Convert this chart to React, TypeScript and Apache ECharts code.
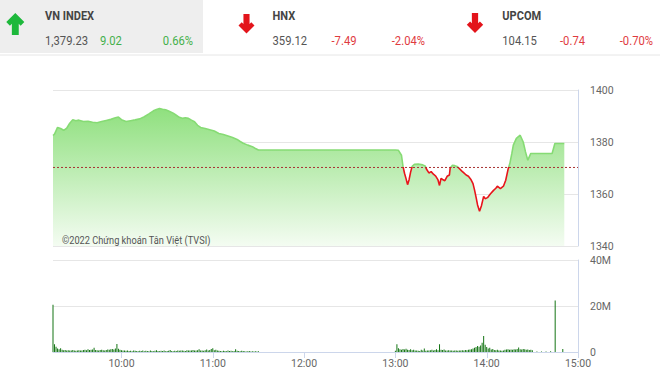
import React, { useEffect, useRef } from 'react';
import * as echarts from 'echarts';

// ---- header data ----
const indexNames = ['VN INDEX', 'HNX', 'UPCOM'];
const indexValues = ['1,379.23', '359.12', '104.15'];
const indexChanges = ['9.02', '-7.49', '-0.74'];
const indexPercents = ['0.66%', '-2.04%', '-0.70%'];
const indexUp = [true, false, false];

// ---- price data (minutes since midnight, VN-Index) ----
const refPrice = 1370.21;
const priceTimes = [
  555, 556, 558, 560, 562, 564, 566, 568, 570, 572, 575, 578, 581, 584, 587, 590, 593, 596, 598, 600,
  603, 606, 609, 612, 615, 618, 621, 623, 625, 627, 629, 631, 634, 636, 638, 640, 642, 644, 646, 648,
  650, 652, 655, 658, 661, 664, 667, 670, 673, 676, 678, 680, 683, 686, 688, 690, 780,
  782, 784, 785, 786, 787, 788, 789, 790, 791, 792.5, 795, 798, 799.5, 800.5, 802, 803.5, 805, 806.5,
  808, 809, 810, 811, 812.5, 814, 815.5, 816, 817.5, 819, 820.5, 822, 823.5, 825, 826.5, 828, 829.5,
  831, 832, 833, 834, 835.3, 836.5, 838, 839, 840.5, 842.5, 844.5, 846, 847, 849, 851, 852.5, 854,
  855.2, 856.5, 857.5, 859.5, 862, 864, 865.5, 867, 869, 883, 884.8, 891
];
const priceValues = [
  1382.5, 1383.0, 1385.6, 1385.2, 1384.5, 1385.3, 1387.2, 1388.6, 1388.2, 1388.4, 1387.9, 1388.0, 1387.6, 1387.4, 1387.9, 1388.3, 1388.7, 1389.3, 1389.6, 1388.6,
  1387.9, 1388.2, 1388.5, 1388.9, 1389.7, 1390.8, 1392.0, 1392.5, 1392.9, 1392.6, 1392.4, 1391.9, 1391.1, 1390.3, 1389.5, 1389.1, 1389.3, 1389.1, 1388.4, 1387.8,
  1386.4, 1385.6, 1385.2, 1384.7, 1384.2, 1383.3, 1382.9, 1382.3, 1381.7, 1381.0, 1380.2, 1379.5, 1378.8, 1378.2, 1377.5, 1376.9, 1376.9,
  1376.8, 1374.9, 1370.6, 1368.0, 1365.9, 1363.6, 1365.5, 1368.4, 1370.6, 1371.4, 1371.5, 1371.2, 1370.8, 1369.5, 1368.1, 1368.6, 1367.6, 1366.9,
  1365.4, 1363.3, 1366.0, 1365.6, 1365.1, 1366.8, 1367.3, 1370.0, 1371.0, 1370.9, 1370.6, 1369.8, 1368.9, 1368.1, 1367.3, 1366.8, 1365.7,
  1364.0, 1361.6, 1358.8, 1355.8, 1353.4, 1355.4, 1359.1, 1358.2, 1358.6, 1360.1, 1361.4, 1362.2, 1363.0, 1362.1, 1363.0, 1365.3, 1369.4,
  1371.7, 1375.5, 1378.8, 1381.4, 1382.6, 1380.0, 1376.2, 1373.0, 1375.6, 1375.6, 1379.4, 1379.4
];

// ---- volume data (millions of shares per minute) ----
const morningStart = 555; // 9:15
const morningVolumes = [
  20.5, 3.4, 2.3, 1.5, 1.2, 1.6, 1.0, 0.8, 0.9, 0.7,
  0.8, 0.6, 0.7, 0.9, 0.6, 0.5, 0.7, 0.8, 0.6, 0.7,
  0.9, 1.0, 0.8, 1.2, 0.9, 1.0, 1.1, 1.8, 0.9, 0.8,
  0.7, 0.9, 1.0, 0.8, 0.7, 0.9, 1.1, 1.0, 1.2, 1.3,
  1.1, 1.5, 3.5, 1.4, 1.0, 0.8, 0.6, 0.7, 0.5, 0.6,
  0.4, 0.5, 0.3, 0.6, 0.5, 0.4, 0.3, 0.5, 0.4, 0.6,
  0.3, 0.5, 0.4, 0.3, 0.6, 0.4, 0.3, 0.5, 0.8, 0.4,
  0.3, 0.5, 0.4, 0.6, 0.3, 0.4, 0.5, 0.9, 0.4, 0.3,
  0.5, 0.4, 0.6, 0.5, 0.7, 0.6, 0.5, 0.4, 0.8, 0.6,
  0.7, 0.6, 0.9, 0.7, 0.6, 0.8, 1.2, 0.7, 0.6, 0.5,
  0.8, 1.1, 0.7, 0.9, 1.3, 1.6, 0.8, 1.0, 0.6, 0.5,
  0.4, 0.3, 0.5, 0.4, 0.3, 0.6, 0.4, 0.5, 0.3, 0.4,
  1.2, 0.5, 0.4, 0.3, 0.5, 0.4, 0.3, 0.2, 0.3, 0.4,
  0.2, 0.3, 0.2, 0.3, 0.2, 0.3
];
const afternoonStart = 780; // 13:00
const afternoonVolumes = [
  0.5, 3.4, 1.6, 1.2, 1.0, 1.3, 1.1, 1.4, 1.0, 0.9,
  1.2, 0.8, 1.0, 0.7, 0.6, 0.5, 0.4, 1.0, 0.6, 1.5,
  0.5, 0.7, 0.6, 0.8, 1.0, 0.6, 0.9, 1.2, 0.8, 3.4,
  1.0, 0.9, 1.1, 0.7, 0.6, 0.8, 0.7, 0.6, 0.5, 0.7,
  0.6, 0.5, 0.7, 0.6, 0.8, 0.7, 0.9, 0.8, 1.0, 1.1,
  1.2, 1.5, 1.8, 2.2, 2.6, 2.3, 2.8, 4.0, 7.0, 3.2,
  2.2, 1.5, 1.8, 1.1, 1.3, 0.9, 0.8, 1.0, 0.7, 0.6,
  0.5, 0.6, 1.0, 1.1, 1.2, 1.0, 1.1, 1.0, 1.2, 1.1,
  1.3, 2.0, 1.2, 1.1, 1.3, 1.2, 1.0, 1.1, 0.9, 1.0,
  0.8
];
const lateTimes = [873, 876, 879, 882, 885, 890];
const lateVolumes = [0.2, 0.2, 0.2, 0.3, 22.4, 1.3];

// ---- axis ticks ----
const tickMinutes = [600, 660, 720, 780, 840, 900];
const tickLabels = ['10:00', '11:00', '12:00', '13:00', '14:00', '15:00'];

const FONT = "Roboto, 'Noto Sans', sans-serif";

function arrowPoints(cx: number, top: number, h: number, up: boolean): number[][] {
  const s = h / 21.7;
  const base: number[][] = [
    [0, 0], [8.9, 8.9], [5.3, 12.5], [3.4, 10.6], [3.4, 21.7],
    [-3.4, 21.7], [-3.4, 10.6], [-5.3, 12.5], [-8.9, 8.9]
  ];
  return base.map(([x, y]) => [cx + x * s, up ? top + y * s : top + h - y * s]);
}

export default function App() {
  const ref = useRef<HTMLDivElement>(null);

  useEffect(() => {
    if (!ref.current) return;
    const chart = echarts.init(ref.current, null, { renderer: 'svg' });

    const priceData = priceTimes.map((t, i) => [t, priceValues[i]]);
    const volData: number[][] = [];
    morningVolumes.forEach((v, i) => volData.push([morningStart + i, v]));
    afternoonVolumes.forEach((v, i) => volData.push([afternoonStart + i, v]));
    lateTimes.forEach((t, i) => volData.push([t, lateVolumes[i]]));

    const green = '#43b04a';
    const red = '#df3b3f';
    const axisLineColor = '#ccd6eb';
    const gridColor = '#e6e6e6';

    chart.setOption({
      animation: false,
      backgroundColor: '#ffffff',
      grid: [
        { left: 53, top: 90, width: 525, height: 156 },
        { left: 53, top: 260, width: 525, height: 92 }
      ],
      xAxis: [
        {
          gridIndex: 0, type: 'value', min: 555, max: 900,
          axisLine: { show: false }, axisTick: { show: false }, axisLabel: { show: false }, splitLine: { show: false }
        },
        {
          gridIndex: 1, type: 'value', min: 555, max: 900, interval: 15,
          axisLine: { show: true, onZero: false, lineStyle: { color: axisLineColor } },
          axisTick: { show: false },
          axisLabel: {
            margin: 6, color: '#666', fontSize: 10.5, fontFamily: FONT, hideOverlap: false,
            showMinLabel: false,
            formatter: (v: number) => {
              const k = tickMinutes.indexOf(v);
              return k >= 0 ? tickLabels[k] : '';
            }
          },
          splitLine: { show: false }
        }
      ],
      yAxis: [
        {
          gridIndex: 0, type: 'value', position: 'right', min: 1340, max: 1400, interval: 20,
          axisLine: { show: true, lineStyle: { color: axisLineColor } },
          axisTick: { show: false },
          axisLabel: { margin: 12, color: '#666', fontSize: 10.5, fontFamily: FONT, formatter: (v: number) => String(v) },
          splitLine: { show: true, lineStyle: { color: gridColor } }
        },
        {
          gridIndex: 1, type: 'value', position: 'right', min: 0, max: 40, interval: 20,
          axisLine: { show: true, lineStyle: { color: axisLineColor } },
          axisTick: { show: false },
          axisLabel: {
            margin: 12, color: '#666', fontSize: 10.5, fontFamily: FONT,
            formatter: (v: number) => (v === 0 ? '0' : v + 'M')
          },
          splitLine: { show: true, lineStyle: { color: gridColor } }
        }
      ],
      visualMap: {
        type: 'piecewise', show: false, seriesIndex: 0, dimension: 1,
        pieces: [
          { gt: refPrice, lte: 1500, color: '#86db74' },
          { gt: 1200, lte: refPrice, color: '#e8141b' }
        ]
      },
      series: [
        {
          type: 'line', xAxisIndex: 0, yAxisIndex: 0, data: priceData,
          showSymbol: false, symbol: 'none',
          lineStyle: { width: 1.6 },
          areaStyle: {
            origin: 'start', opacity: 1,
            color: new echarts.graphic.LinearGradient(0, 0, 0, 1, [
              { offset: 0, color: '#8fe07e' },
              { offset: 1, color: '#f4fcf2' }
            ])
          }
        },
        {
          type: 'line', xAxisIndex: 0, yAxisIndex: 0,
          data: [[555, refPrice], [900, refPrice]],
          showSymbol: false, symbol: 'none', silent: true,
          lineStyle: { color: '#a83232', type: [2, 2], width: 1 },
          z: 5
        },
        {
          type: 'bar', xAxisIndex: 1, yAxisIndex: 1, data: volData,
          barWidth: 1, itemStyle: { color: '#147514' }
        }
      ]
    });

    // header + hour tick marks (tick positions through the axis scale)
    const headerCols = [
      { arrowX: 15.3, arrowTop: 13, arrowH: 22, nameX: 45, changeX: 100, pctR: 193 },
      { arrowX: 246.5, arrowTop: 14, arrowH: 19.5, nameX: 272.5, changeX: 331.5, pctR: 425 },
      { arrowX: 475, arrowTop: 13, arrowH: 20, nameX: 502.3, changeX: 560, pctR: 653 }
    ];
    const graphics: any[] = [
      { type: 'rect', shape: { x: 0, y: 0, width: 203, height: 53 }, style: { fill: '#eeeeee' }, silent: true, z: -1 },
      { type: 'line', shape: { x1: 0, y1: 55, x2: 660, y2: 55 }, style: { stroke: '#e6e6e6', lineWidth: 1 }, silent: true }
    ];
    headerCols.forEach((c, i) => {
      const col = indexUp[i] ? green : red;
      graphics.push({
        type: 'polygon',
        shape: { points: arrowPoints(c.arrowX, c.arrowTop, c.arrowH, indexUp[i]) },
        style: { fill: indexUp[i] ? '#1db83b' : '#e3141b' },
        silent: true
      });
      graphics.push({
        type: 'text', x: c.nameX, y: 16, scaleX: 0.92,
        style: { text: indexNames[i], font: `bold 12px ${FONT}`, fill: '#444', verticalAlign: 'middle' }
      });
      graphics.push({
        type: 'text', x: c.nameX, y: 41, scaleX: 0.9,
        style: { text: indexValues[i], font: `12.5px ${FONT}`, fill: '#555', verticalAlign: 'middle' }
      });
      graphics.push({
        type: 'text', x: c.changeX, y: 41, scaleX: 0.9,
        style: { text: indexChanges[i], font: `12.5px ${FONT}`, fill: col, verticalAlign: 'middle' }
      });
      graphics.push({
        type: 'text', x: c.pctR, y: 41, scaleX: 0.9,
        style: { text: indexPercents[i], font: `12.5px ${FONT}`, fill: col, verticalAlign: 'middle', align: 'right' }
      });
    });
    graphics.push({
      type: 'text', x: 62, y: 240, z: 100, scaleX: 0.84,
      style: { text: '©2022 Chứng khoán Tân Việt (TVSI)', font: `11px ${FONT}`, fill: '#555', verticalAlign: 'middle' }
    });
    const y0 = chart.convertToPixel({ yAxisIndex: 1 }, 0) as number;
    tickMinutes.forEach((t) => {
      const px = chart.convertToPixel({ xAxisIndex: 1 }, t) as number;
      const x = Math.round(px) + 0.5;
      graphics.push({
        type: 'line', silent: true,
        shape: { x1: x, y1: y0, x2: x, y2: y0 + 6 },
        style: { stroke: axisLineColor, lineWidth: 1 }
      });
    });
    chart.setOption({ graphic: graphics });

    return () => chart.dispose();
  }, []);

  return (
    <div
      ref={ref}
      style={{ position: 'absolute', left: 0, top: 0, width: 660, height: 382 }}
    />
  );
}
